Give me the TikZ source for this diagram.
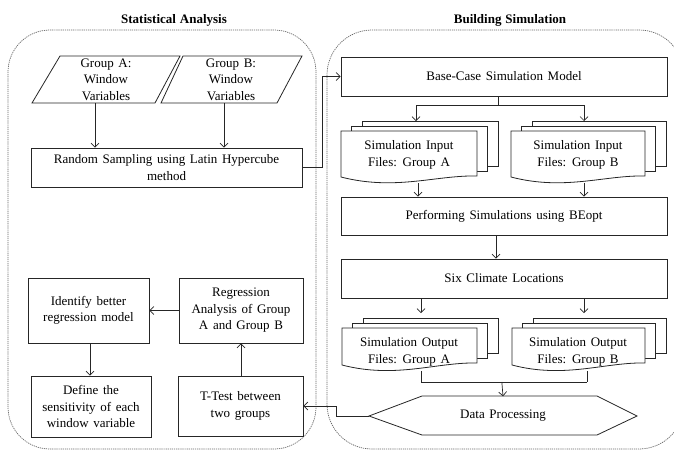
\documentclass[tikz,border=0pt]{standalone}
\usepackage{fontspec}
\setmainfont{Liberation Serif}
\usetikzlibrary{arrows.meta,calc}

\newcommand\diagfont{\fontsize{13}{16.5}\selectfont\spaceskip 0.36em\relax}
\newcommand\headfont{\fontsize{13}{15}\selectfont\bfseries\spaceskip 0.3em\relax}
\colorlet{ink}{black!85}

\tikzset{
  box/.style={draw=ink, line width=0.8pt, fill=white, align=center,
    inner sep=0pt, font=\diagfont, text=black},
  label/.style={align=center, inner sep=0pt, font=\diagfont, text=black},
  sheet/.style={draw=ink, line width=0.8pt, fill=white},
  link/.style={draw=ink, line width=0.7pt},
  arr/.style={link, -{Straight Barb[length=4pt,width=8pt,line width=0.7pt]}},
  cont/.style={draw=black!60, line width=0.7pt, dash pattern=on 1.2pt off 0.9pt},
  heading/.style={font=\headfont, inner sep=0pt}
}

% stack of three sheets; front sheet has a wavy bottom edge
% #1 left, #2 top, #3 right, #4 bottom at the right edge, #5 bottom at the left edge
\newcommand\docstack[5]{%
  \foreach \k in {2,1}{
    \draw[sheet] (#1+\k*10.5,#2-\k*5) rectangle (#3+\k*10.5,#4-\k*5);
  }
  \draw[sheet] (#1,#2) -- (#3,#2) -- (#3,#4)
    .. controls (#1+0.7*#3-0.7*#1,#4-1) and (#1+0.4*#3-0.4*#1,#5+14) .. (#1,#5)
    -- cycle;
}

\begin{document}
\begin{tikzpicture}[x=1pt,y=-1pt]
\useasboundingbox (0,0) rectangle (674,451);

% dashed containers and their headings
\draw[cont, rounded corners=42pt] (8,30) rectangle (316,449);
\draw[cont, rounded corners=45pt] (327,30) rectangle (684,449);
\node[heading] (hstat) at (174,20) {Statistical Analysis};
\node[heading] (hsim) at (510,20) {Building Simulation};

% ---------------- Statistical analysis ----------------
\draw[sheet] (60,56) -- (180,56) -- (155,103) -- (32,103) -- cycle;
\node[label, minimum height=47pt] (gA) at (106,79.5) {Group A:\\Window\\Variables};
\draw[sheet] (183,56) -- (302,56) -- (277,103) -- (161,103) -- cycle;
\node[label, minimum height=47pt] (gB) at (231,79.5) {Group B:\\Window\\Variables};

\node[box, minimum width=271pt, minimum height=39pt] (rs) at (166.5,167.5)
  {Random Sampling using Latin Hypercube\\method};

\node[box, minimum width=121pt, minimum height=65pt] (ident) at (88.5,310.5)
  {Identify better\\regression model};
\node[box, minimum width=124pt, minimum height=65pt] (regr) at (241,310.5)
  {Regression\\Analysis of Group\\A and Group B};
\node[box, minimum width=120pt, minimum height=61pt] (def) at (91,406.5)
  {Define the\\sensitivity of each\\window variable};
\node[box, minimum width=125pt, minimum height=60pt] (ttest) at (240.5,406)
  {T-Test between\\two groups};

% ---------------- Building simulation ----------------
\node[box, minimum width=326pt, minimum height=39pt] (base) at (504,76.5)
  {Base-Case Simulation Model};

\docstack{341}{131}{477}{176}{177}
\node[label] (inA) at (409,155) {Simulation Input\\Files: Group A};
\docstack{511}{131}{645}{176}{177}
\node[label] (inB) at (578,155) {Simulation Input\\Files: Group B};

\node[box, minimum width=326pt, minimum height=38pt] (perf) at (504,216)
  {Performing Simulations using BEopt};
\node[box, minimum width=326pt, minimum height=39pt] (six) at (504,278.5)
  {Six Climate Locations};

\docstack{342}{328}{477}{363}{365}
\node[label] (outA) at (409,352) {Simulation Output\\Files: Group A};
\docstack{512}{328}{645}{363}{365}
\node[label] (outB) at (578,352) {Simulation Output\\Files: Group B};

\draw[sheet] (369,416) -- (422,396) -- (597,396) -- (637,416) -- (597,435) -- (422,435) -- cycle;
\node[label, minimum width=268pt, minimum height=39pt] (dp) at (503,416) {Data Processing};

% connector end points on the sheet stacks
\coordinate (inAtop) at (416,121);
\coordinate (inBtop) at (584,121);
\coordinate (inAbot) at (418,183);
\coordinate (inBbot) at (584,183);
\coordinate (outAtop) at (421,313);
\coordinate (outBtop) at (584,313);
\coordinate (outAbot) at (421,371);
\coordinate (outBbot) at (587,371);

% ---------------- connectors ----------------
\draw[arr] ([xshift=-11pt]gA.south) -- ([xshift=-11pt]gA.south |- rs.north);
\draw[arr] ([xshift=-7pt]gB.south) -- ([xshift=-7pt]gB.south |- rs.north);
\draw[arr] (rs.east) -- ++(20,0) |- (base.west);

\draw[link] ([xshift=-6pt]base.south) -- ++(0,8.5) coordinate (split);
\draw[arr] (split) -| (inAtop);
\draw[arr] (split) -| (inBtop);

\draw[arr] (inAbot) -- (inAbot |- perf.north);
\draw[arr] (inBbot) -- (inBbot |- perf.north);
\draw[arr] ([xshift=-8pt]perf.south) -- ([xshift=-8pt]six.north);
\draw[arr] (outAtop |- six.south) -- (outAtop);
\draw[arr] (outBtop |- six.south) -- (outBtop);

\draw[link] (outAbot) -- ++(0,11) coordinate (joinA);
\draw[link] (outBbot) -- ++(0,11) coordinate (joinB);
\draw[link] (joinA) -- (joinB);
\draw[arr] ($(joinA)!0.487!(joinB)$) -- (dp.north);

\draw[arr] (dp.west) -- ++(-32,0) -- ++(0,-10) -- (ttest.east |- 0,406);
\draw[arr] ([xshift=0.5pt]ttest.north) -- ([xshift=0.5pt]ttest.north |- regr.south);
\draw[arr] (regr.west) -- (ident.east);
\draw[arr] ([xshift=1.5pt]ident.south) -- ([xshift=1.5pt]ident.south |- def.north);
\end{tikzpicture}
\end{document}
